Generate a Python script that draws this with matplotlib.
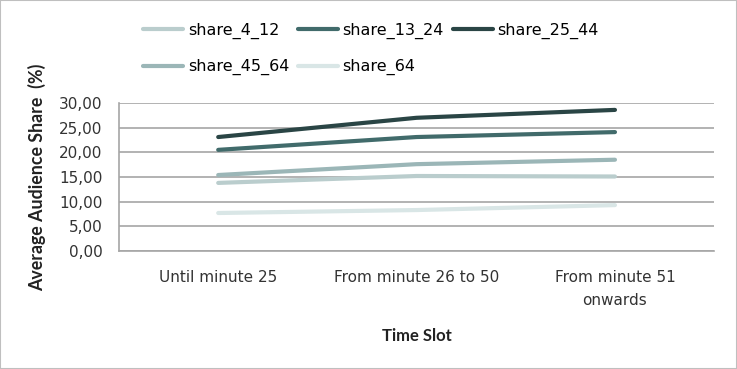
import matplotlib.pyplot as plt
from matplotlib.ticker import FuncFormatter

# Data
slots = ['Until minute 25', 'From minute 26 to 50', 'From minute 51\nonwards']
series = ['share_4_12', 'share_13_24', 'share_25_44', 'share_45_64', 'share_64']
share_4_12 = [13.8, 15.2, 15.1]
share_13_24 = [20.5, 23.1, 24.1]
share_25_44 = [23.1, 27.0, 28.6]
share_45_64 = [15.4, 17.6, 18.5]
share_64 = [7.7, 8.3, 9.3]
values = [share_4_12, share_13_24, share_25_44, share_45_64, share_64]
colors = ['#bacdcd', '#416b6b', '#2a4545', '#9bb6b7', '#d9e6e6']

plt.rcParams['font.family'] = ['DejaVu Sans']

fig = plt.figure(figsize=(7.37, 3.69), dpi=100)
ax = fig.add_axes([0.1615, 0.3198, 0.8075, 0.4011])

x = range(len(slots))
lines = []
for name, vals, c in zip(series, values, colors):
    ln, = ax.plot(x, vals, color=c, linewidth=3, label=name, solid_capstyle='round')
    lines.append(ln)

ax.set_xlim(-0.5, 2.5)
ax.set_ylim(0, 30)
ax.set_yticks(range(0, 31, 5))
ax.yaxis.set_major_formatter(FuncFormatter(lambda v, p: f'{v:.2f}'.replace('.', ',')))
ax.set_xticks(list(x))
ax.set_xticklabels(slots, fontsize=11, color='#333333', linespacing=1.65)
ax.tick_params(axis='y', labelsize=11, colors='#333333', length=0, pad=12)
ax.tick_params(axis='x', length=0, pad=14)
ax.grid(axis='y', color='#a6a6a6', linewidth=1.2)
ax.set_axisbelow(True)
for s in ['top', 'right']:
    ax.spines[s].set_visible(False)
for s in ['left', 'bottom']:
    ax.spines[s].set_color('#a6a6a6')
    ax.spines[s].set_linewidth(1.2)

ax.set_ylabel('Average Audience Share  (%)', fontsize=12.8, fontweight='bold',
              family='Lato', color='#222222', labelpad=9)
ax.set_xlabel('Time Slot', fontsize=12, fontweight='bold', family='Lato',
              color='#222222', labelpad=14)

# row-wise legend order like the reference
order = [0, 3, 1, 4, 2]
fig.legend([lines[i] for i in order], [series[i] for i in order],
           loc='upper left', bbox_to_anchor=(143 / 737, 1 - 23 / 369), ncol=3,
           frameon=False, fontsize=11.5, handlelength=2.5, handletextpad=0.3,
           columnspacing=0.55, labelspacing=1.25, borderpad=0, borderaxespad=0)

border = plt.Rectangle((0, 0), 1, 1, transform=fig.transFigure, fill=False,
                       edgecolor='#bfbfbf', linewidth=1.5)
fig.patches.append(border)

fig.savefig('out.png', dpi=100)
